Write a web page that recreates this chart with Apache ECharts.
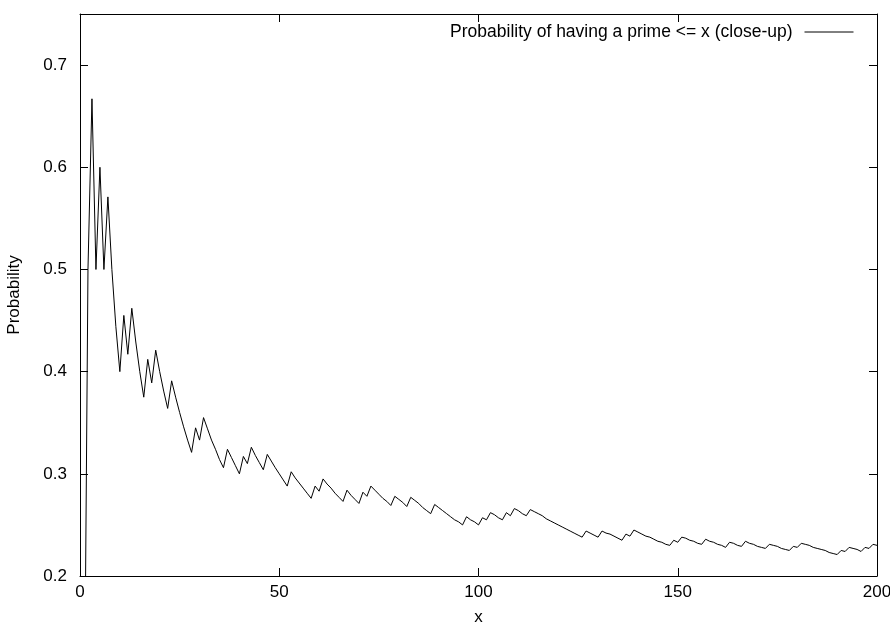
<!DOCTYPE html>
<html>
<head>
<meta charset="utf-8">
<script src="https://cdn.jsdelivr.net/npm/echarts@6/dist/echarts.min.js"></script>
<style>html,body{margin:0;padding:0;background:#fff;}#c{width:890px;height:624px;}</style>
</head>
<body>
<div id="c"></div>
<script>
// x values 1..200
var xValues = [];
for (var i = 1; i <= 200; i++) xValues.push(i);
// probability values (pi(x)/x shape)
var probValues = [
0,0.5,0.667,0.5,0.6,0.5,0.571,0.5,0.444,0.4,
0.455,0.417,0.462,0.429,0.4,0.375,0.412,0.389,0.421,0.4,
0.381,0.364,0.391,0.375,0.36,0.346,0.333,0.321,0.345,0.333,
0.355,0.344,0.333,0.324,0.314,0.306,0.324,0.316,0.308,0.3,
0.317,0.31,0.326,0.318,0.311,0.304,0.319,0.3125,0.306,0.3,
0.294,0.288,0.302,0.296,0.291,0.286,0.281,0.276,0.288,0.283,
0.295,0.29,0.286,0.281,0.277,0.273,0.284,0.279,0.275,0.271,
0.282,0.278,0.288,0.284,0.28,0.276,0.273,0.269,0.278,0.275,
0.272,0.268,0.277,0.274,0.271,0.267,0.264,0.261,0.27,0.267,
0.264,0.261,0.258,0.255,0.253,0.25,0.258,0.255,0.253,0.25,
0.257,0.255,0.262,0.26,0.257,0.255,0.262,0.259,0.266,0.264,
0.261,0.259,0.265,0.263,0.261,0.259,0.256,0.254,0.252,0.25,
0.248,0.246,0.244,0.242,0.24,0.238,0.244,0.242,0.24,0.238,
0.244,0.242,0.241,0.239,0.237,0.235,0.241,0.239,0.245,0.243,
0.241,0.239,0.238,0.236,0.234,0.233,0.231,0.23,0.235,0.233,
0.238,0.237,0.235,0.234,0.232,0.231,0.236,0.234,0.233,0.231,
0.23,0.228,0.233,0.232,0.23,0.229,0.234,0.232,0.231,0.229,
0.228,0.227,0.231,0.23,0.229,0.227,0.226,0.225,0.229,0.228,
0.232,0.231,0.23,0.228,0.227,0.226,0.225,0.223,0.222,0.221,
0.225,0.224,0.228,0.227,0.226,0.224,0.228,0.227,0.231,0.23
];
var seriesName = 'Probability of having a prime <= x (close-up)';

var data = xValues.map(function (x, i) { return [x, probValues[i]]; });
var font = 'Liberation Sans, Arial, sans-serif';
var fs = 17;
var chart = echarts.init(document.getElementById('c'), null, {renderer: 'canvas'});
var axLine = {show: true, onZero: false, lineStyle: {color: '#000', width: 1}};
var ticks = {show: true, inside: true, length: 8, lineStyle: {color: '#000', width: 1}};
chart.setOption({
  animation: false,
  backgroundColor: '#fff',
  grid: {left: 80, right: 13, top: 14, bottom: 48, containLabel: false, outerBoundsMode: 'none'},
  legend: {
    show: true, right: 36, top: 23, align: 'right', padding: 0,
    itemWidth: 49, itemHeight: 18,
    itemStyle: {opacity: 0},
    lineStyle: {color: '#000', width: 1},
    textStyle: {fontFamily: font, fontSize: 17.5, color: '#000', padding: [0, 7, 0, 0]},
    data: [{name: seriesName}]
  },
  xAxis: [{
    type: 'value', min: 0, max: 200, interval: 50, position: 'bottom',
    name: 'x', nameLocation: 'middle', nameGap: 33,
    nameTextStyle: {fontFamily: font, fontSize: fs, color: '#000'},
    axisLine: axLine, axisTick: ticks, splitLine: {show: false},
    axisLabel: {fontFamily: font, fontSize: fs, color: '#000', margin: 8}
  }, {
    type: 'value', min: 0, max: 200, interval: 50, position: 'top',
    axisLine: axLine, axisTick: ticks, splitLine: {show: false},
    axisLabel: {show: false}
  }],
  yAxis: [{
    type: 'value', min: 0.2, max: 0.75, interval: 0.1, position: 'left',
    name: 'Probability', nameLocation: 'middle', nameGap: 57, nameRotate: 90,
    nameTextStyle: {fontFamily: font, fontSize: fs, color: '#000'},
    axisLine: axLine, axisTick: ticks, splitLine: {show: false},
    axisLabel: {fontFamily: font, fontSize: fs, color: '#000', margin: 13, showMaxLabel: false,
      formatter: function (v) { return (Math.round(v * 10) / 10).toFixed(1); }}
  }, {
    type: 'value', min: 0.2, max: 0.75, interval: 0.1, position: 'right',
    axisLine: axLine, axisTick: ticks, splitLine: {show: false},
    axisLabel: {show: false}
  }],
  series: [{
    name: seriesName, type: 'line', data: data, showSymbol: false, symbol: 'none',
    clip: true, lineStyle: {color: '#000', width: 1}, itemStyle: {color: '#000'}
  }]
});
</script>
</body>
</html>
